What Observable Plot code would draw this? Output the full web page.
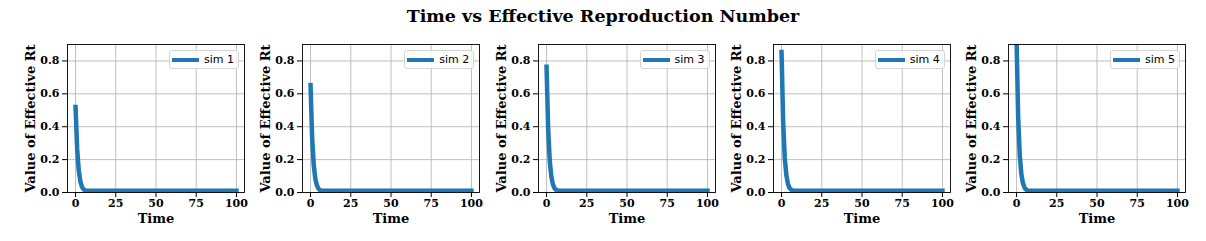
<!DOCTYPE html>
<html>
<head>
<meta charset="utf-8">
<script src="https://cdn.jsdelivr.net/npm/d3@7"></script>
<script src="https://cdn.jsdelivr.net/npm/@observablehq/plot@0.6"></script>
<style>
  html, body { margin: 0; padding: 0; background: #fff; }
  #title { height: 34px; box-sizing: border-box; padding-top: 8px; text-align: center;
           font-family: "DejaVu Serif", serif; font-weight: bold; font-size: 17.5px; line-height: 17px; color: #000; }
  #row { display: flex; padding-left: 19px; }
  .panel { position: relative; flex: 0 0 auto; }
  .legend { position: absolute; box-sizing: border-box; width: 70px; height: 19px;
            border: 1px solid #d4d4d4; border-radius: 3px; background: rgba(255,255,255,0.8);
            font-family: "DejaVu Sans", sans-serif; font-size: 11px; color: #000; }
  .legend .swatch { position: absolute; left: 2px; top: 6.5px; width: 27px; height: 4.5px; background: #1f77b4; }
  .legend .lab { position: absolute; left: 34px; top: 1px; line-height: 15px; }
</style>
</head>
<body>
<div id="title">Time vs Effective Reproduction Number</div>
<div id="row"></div>
<script>
// ---- data ----
const simNames = ["sim 1", "sim 2", "sim 3", "sim 4", "sim 5"];
const times = [0, 1, 2, 3, 4, 5, 6, 7, 8, 9, 10, 100];
const sim1 = [0.52, 0.265, 0.133, 0.067, 0.034, 0.019, 0.013, 0.011, 0.010, 0.010, 0.010, 0.010];
const sim2 = [0.653, 0.33, 0.165, 0.082, 0.042, 0.022, 0.014, 0.011, 0.010, 0.010, 0.010, 0.010];
const sim3 = [0.765, 0.385, 0.19, 0.095, 0.048, 0.025, 0.015, 0.012, 0.010, 0.010, 0.010, 0.010];
const sim4 = [0.854, 0.43, 0.21, 0.105, 0.052, 0.027, 0.016, 0.012, 0.010, 0.010, 0.010, 0.010];
const sim5 = [0.93, 0.46, 0.225, 0.112, 0.056, 0.029, 0.017, 0.012, 0.010, 0.010, 0.010, 0.010];
const simValues = [sim1, sim2, sim3, sim4, sim5];
const xTicks = [0, 25, 50, 75, 100];
const yTicks = [0.0, 0.2, 0.4, 0.6, 0.8];
const title = "Time vs Effective Reproduction Number";
const xLabel = "Time";
const yLabel = "Value of Effective Rt";

// ---- layout ----
const W = 235.25, H = 207, ML = 48, MR = 10.25, MT = 10, MB = 49;
const color = "#1f77b4";
const serif = "'DejaVu Serif', serif";

document.getElementById("title").textContent = title;
const row = document.getElementById("row");

simNames.forEach((name, i) => {
  const data = times.map((t, j) => ({t, v: simValues[i][j]}));
  const chart = Plot.plot({
    width: W, height: H,
    marginLeft: ML, marginRight: MR, marginTop: MT, marginBottom: MB,
    style: {fontFamily: serif, fontSize: "11px", fontWeight: "bold", color: "#000", background: "#fff", overflow: "visible"},
    x: {domain: [-5, 105], label: null},
    y: {domain: [0, 0.9], label: null},
    marks: [
      Plot.gridX(xTicks, {stroke: "#b0b0b0", strokeOpacity: 1, strokeWidth: 0.8}),
      Plot.gridY(yTicks, {stroke: "#b0b0b0", strokeOpacity: 1, strokeWidth: 0.8}),
      Plot.line(data, {x: "t", y: "v", stroke: color, strokeWidth: 4.5, strokeLinecap: "square", strokeLinejoin: "round", clip: true}),
      Plot.frame({stroke: "#000", strokeWidth: 0.9}),
      Plot.axisX(xTicks, {tickSize: 5, tickPadding: 2, tickFormat: d => String(d), label: null, fontWeight: "bold"}),
      Plot.axisY(yTicks, {tickSize: 5, tickPadding: 3, tickFormat: d => d.toFixed(1), label: null, fontWeight: "bold"}),
      Plot.text([xLabel], {frameAnchor: "bottom", lineAnchor: "middle", textAnchor: "middle", dy: 26, fontSize: 13, fontWeight: "bold", fill: "#000"}),
      Plot.text([yLabel], {frameAnchor: "left", lineAnchor: "middle", textAnchor: "middle", dx: -37, rotate: -90, fontSize: 13, fontWeight: "bold", fill: "#000"})
    ]
  });
  const panel = document.createElement("div");
  panel.className = "panel";
  panel.style.width = W + "px";
  panel.style.height = H + "px";
  panel.appendChild(chart);
  const leg = document.createElement("div");
  leg.className = "legend";
  leg.style.left = (W - MR - 5 - 70) + "px";
  leg.style.top = (MT + 6) + "px";
  leg.innerHTML = '<div class="swatch"></div><div class="lab"></div>';
  leg.querySelector(".lab").textContent = name;
  panel.appendChild(leg);
  row.appendChild(panel);
});
</script>
</body>
</html>
